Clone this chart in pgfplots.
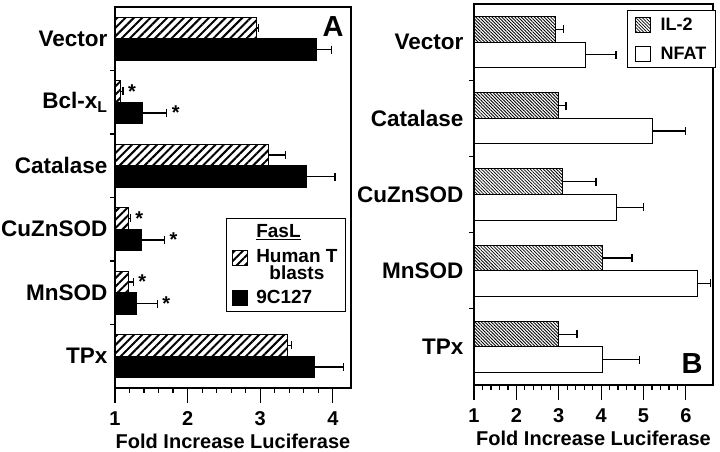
\documentclass[border=0pt]{standalone}
\usepackage{fontspec}
\setmainfont{Liberation Sans}
\usepackage{pgfplots}
\usepackage{pgfplotstable}
\pgfplotsset{compat=1.18}
\usetikzlibrary{patterns.meta}
\newcommand\fs[1]{\fontsize{#1}{#1}\selectfont\bfseries}

\pgfplotstableread{
y x ex
5.17 2.95 0.03
4.17 1.07 0.04
3.17 3.11 0.24
2.17 1.18 0.03
1.17 1.18 0.07
0.17 3.38 0.05
}\Ahum
\pgfplotstableread{
y x ex
4.83 3.78 0.20
3.83 1.38 0.33
2.83 3.64 0.39
1.83 1.37 0.31
0.83 1.29 0.29
-0.17 3.75 0.40
}\Acell
\pgfplotstableread{
y x ex
4.1675 2.93 0.19
3.1675 3.00 0.17
2.1675 3.10 0.78
1.1675 4.04 0.69
0.1675 3.00 0.43
}\Bil
\pgfplotstableread{
y x ex
3.8325 3.62 0.73
2.8325 5.22 0.78
1.8325 4.37 0.63
0.8325 6.28 0.31
-0.1675 4.04 0.86
}\Bnf

\tikzset{ast/.style={font=\fs{20}, anchor=west, inner sep=0pt, xshift=5pt}}
\pgfplotsset{
  common/.style={
    scale only axis, anchor=south west,
    tick align=outside, xtick pos=bottom, ytick pos=left,
    major tick length=15pt, minor tick length=5pt,
    major y tick style={draw=none},
    every tick/.style={black, line width=1.2pt},
    axis line style={line width=1.3pt},
    minor x tick num=4,
    /pgf/number format/assume math mode=true,
    xticklabel style={font=\fs{20}, yshift=-5pt},
    xlabel style={font=\fs{20}, yshift=-1pt},
    xlabel={Fold Increase Luciferase},
  },
  ebar/.style={error bars/.cd, x dir=plus, x explicit, error mark=|,
    error bar style={line width=1.2pt, black},
    error mark options={black, mark size=4pt, line width=1.2pt}},
  sq/.style={legend image code/.code={\draw[##1, line width=1pt] (0pt,-7.5pt) rectangle (15pt,7.5pt);}},
  squp/.style={legend image code/.code={\draw[##1, line width=1pt] (0pt,-0.5pt) rectangle (15pt,14.5pt);}},
}

\begin{document}
\begin{tikzpicture}
\useasboundingbox (0,0) rectangle (720pt,452pt);
\begin{axis}[common,
  at={(115pt,64pt)}, width=236pt, height=381pt,
  xmin=1, xmax=4.25, ymin=-0.5, ymax=5.5,
  xtick={1,2,3,4},
  ytick={0,...,5},
  yticklabels={TPx, MnSOD, CuZnSOD, Catalase, Bcl-x\textsubscript{L}, Vector},
  yticklabel style={font=\fs{22.5}, xshift=11pt},
  minor ytick={0.5,1.5,2.5,3.5,4.5},
  legend style={draw=black, line width=1pt, fill=white, font=\fs{19},
    at={(rel axis cs:0.979,0.446)}, anchor=north east,
    inner xsep=6pt, inner ysep=4pt, column sep=6pt, row sep=6pt},
  legend cell align=left,
]
\addlegendimage{empty legend}
\addlegendentry{\underline{FasL}}
\addplot[xbar, bar shift=0pt, bar width=0.34, draw=black, line width=1pt,
  pattern={Lines[angle=45,distance=5.9pt,line width=2pt]}, squp, ebar]
  table[x=x, y=y, x error=ex] {\Ahum};
\addlegendentry{\shortstack{Human T\\blasts}}
\addplot[xbar, bar shift=0pt, bar width=0.34, draw=black, fill=black, line width=1pt, sq, ebar]
  table[x=x, y=y, x error=ex] {\Acell};
\addlegendentry{9C127}
\node[font=\fs{29}] at (rel axis cs:0.924,0.949) {A};
\node[ast] at (axis cs:1.11,4.17) {*};
\node[ast] at (axis cs:1.71,3.83) {*};
\node[ast] at (axis cs:1.21,2.17) {*};
\node[ast] at (axis cs:1.68,1.83) {*};
\node[ast] at (axis cs:1.25,1.17) {*};
\node[ast] at (axis cs:1.58,0.83) {*};
\end{axis}

\begin{axis}[common,
  at={(474pt,67pt)}, width=239pt, height=381pt,
  xmin=1, xmax=6.64, ymin=-0.5, ymax=4.5,
  xtick={1,...,6},
  ytick={0,...,4},
  yticklabels={TPx, MnSOD, CuZnSOD, Catalase, Vector},
  yticklabel style={font=\fs{22.5}, xshift=8pt},
  minor ytick={0.5,1.5,2.5,3.5},
  legend style={draw=black, line width=1pt, fill=white, font=\fs{18},
    at={(rel axis cs:1.012,0.984)}, anchor=north east,
    inner xsep=7pt, inner ysep=5pt, column sep=8pt, row sep=11pt},
  legend cell align=left,
]
\addplot[xbar, bar shift=0pt, bar width=0.335, draw=black, line width=1pt,
  pattern={Lines[angle=-45,distance=2.3pt,line width=0.8pt]}, sq, ebar]
  table[x=x, y=y, x error=ex] {\Bil};
\addlegendentry{IL-2}
\addplot[xbar, bar shift=0pt, bar width=0.335, draw=black, fill=white, line width=1pt, sq, ebar]
  table[x=x, y=y, x error=ex] {\Bnf};
\addlegendentry{NFAT}
\node[font=\fs{29}] at (rel axis cs:0.912,0.056) {B};
\end{axis}
\end{tikzpicture}
\end{document}
